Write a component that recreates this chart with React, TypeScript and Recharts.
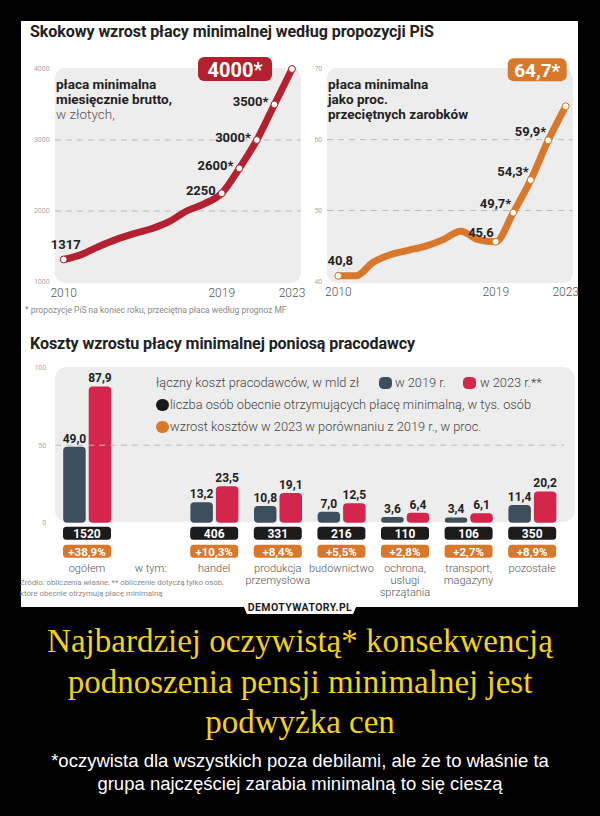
import React from "react";
import { LineChart, Line, BarChart, Bar, XAxis, YAxis, ReferenceLine, LabelList } from "recharts";

// chart 1 + 2: min wage 2010-2023
const years = [2010, 2011, 2012, 2013, 2014, 2015, 2016, 2017, 2018, 2019, 2020, 2021, 2022, 2023];
const minWage = [1317, 1386, 1500, 1600, 1680, 1750, 1850, 2000, 2100, 2250, 2600, 3000, 3500, 4000];
const wageLabels = ["1317", "", "", "", "", "", "", "", "", "2250", "2600*", "3000*", "3500*", "4000*"];
const wageShare = [40.8, 40.8, 42.7, 43.8, 44.4, 45.0, 45.9, 47.1, 45.9, 45.6, 49.7, 54.3, 59.9, 64.7];
const shareLabels = ["40,8", "", "", "", "", "", "", "", "", "45,6", "49,7*", "54,3*", "59,9*", "64,7*"];
const wageTicks = [1000, 2000, 3000, 4000];
const shareTicks = [40, 50, 60, 70];
const yearTicks = [2010, 2019, 2023];

// chart 3: costs by sector
const sectors = ["ogółem", "w tym:", "handel", "produkcja\nprzemysłowa", "budownictwo", "ochrona,\nusługi\nsprzątania", "transport,\nmagazyny", "pozostałe"];
const cost2019 = [49.0, null, 13.2, 10.8, 7.0, 3.6, 3.4, 11.4];
const cost2023 = [87.9, null, 23.5, 19.1, 12.5, 6.4, 6.1, 20.2];
const workers = [1520, null, 406, 331, 216, 110, 106, 350];
const costGrowth = [38.9, null, 10.3, 8.4, 5.5, 2.8, 2.7, 8.9];
const costTicks = [0, 50, 100];

const wageData = years.map((year, i) => ({ year, wage: minWage[i], label: wageLabels[i] }));
const shareData = years.map((year, i) => ({ year, share: wageShare[i], label: shareLabels[i] }));
const costData = sectors.map((sector, i) => ({ sector, y2019: cost2019[i], y2023: cost2023[i] }));

const FONT = "Roboto, 'Noto Sans', sans-serif";
const RED = "#b3202f";
const ORANGE = "#d9782b";
const SLATE = "#3d4f5b";
const CRIMSON = "#d4264d";
const BG = "#ededed";

const comma = (v: number) => v.toFixed(1).replace(".", ",");

const makeDot = (color: string) => (p: any) => {
  const yr = years[p.index];
  if (!(p.index === 0 || yr >= 2019)) return <g key={"d" + p.index} />;
  return <circle key={"d" + p.index} cx={p.cx} cy={p.cy} r={3.4} fill="#fff" stroke={color} strokeWidth={1} />;
};

const makeLabel = (labels: string[], color: string, o: any) => (props: any) => {
  const { x, y, value } = props;
  if (!value) return null;
  const index = props.index ?? labels.indexOf(value);
  if (index === labels.length - 1) {
    return (
      <g>
        <rect x={x + o.bx} y={y + o.by} width={o.bw} height={o.bh} rx={6} fill={color} />
        <text x={x + o.bx + o.bw / 2} y={y + o.by + o.bh / 2 + 1} textAnchor="middle" dominantBaseline="central"
          fill="#fff" fontSize={o.bfs} fontWeight={700} fontFamily={FONT}>{value}</text>
      </g>
    );
  }
  if (index === 0) {
    return (
      <text x={x + 2} y={y - 15} textAnchor="middle" dominantBaseline="central" fill="#222" fontSize={13} fontWeight={700} fontFamily={FONT}>{value}</text>
    );
  }
  return (
    <text x={x + o.dx} y={y + o.dy} textAnchor="end" dominantBaseline="central" fill="#222" fontSize={13} fontWeight={700} fontFamily={FONT}>{value}</text>
  );
};

const barLabel = (props: any) => {
  const { x, y, width, value } = props;
  if (value == null) return null;
  return (
    <text x={x + width / 2} y={y - 4} textAnchor="middle" fill="#222" fontSize={12} fontWeight={700} fontFamily={FONT}>{comma(value)}</text>
  );
};

const SectorTick = (props: any) => {
  const { x, y, payload } = props;
  const i = payload.index ?? sectors.indexOf(payload.value);
  const lines = sectors[i].split("\n");
  return (
    <g fontFamily={FONT}>
      {workers[i] != null && (
        <g>
          <rect x={x - 24} y={y + 4} width={48} height={13} rx={3.5} fill="#1b1b1b" />
          <text x={x} y={y + 11} textAnchor="middle" dominantBaseline="central" fill="#fff" fontSize={12} fontWeight={700}>{workers[i]}</text>
          <rect x={x - 24} y={y + 22} width={48} height={13} rx={3.5} fill={ORANGE} />
          <text x={x} y={y + 29} textAnchor="middle" dominantBaseline="central" fill="#fff" fontSize={11.5} fontWeight={700}>{"+" + comma(costGrowth[i] as number) + "%"}</text>
        </g>
      )}
      {lines.map((l, k) => (
        <text key={k} x={x} y={y + 46 + k * 12} textAnchor="middle" dominantBaseline="central" fill="#555" fontSize={11} fontWeight={300}>{l}</text>
      ))}
    </g>
  );
};

const abs = (l: number, t: number, extra: any = {}) => ({ position: "absolute" as const, left: l, top: t, ...extra });

const LegendIcon = ({ l, t, color, round }: any) => (
  <div style={abs(l, t, { width: 13, height: 12, borderRadius: round ? 6 : 4.5, background: color })} />
);

export default function App() {
  const tiny = { fontSize: 7, fill: "#aaa", fontFamily: FONT };
  const yearTick = { fontSize: 12, fill: "#555", fontFamily: FONT, fontWeight: 300 };
  const blockText = { fontSize: 13.5, lineHeight: "15px", color: "#222", fontWeight: 700, whiteSpace: "nowrap" as const };
  const legendText = { fontSize: 12.8, lineHeight: "14px", color: "#444", fontWeight: 300, whiteSpace: "nowrap" as const };
  const heading = { fontSize: 16.1, lineHeight: "18px", fontWeight: 700, color: "#222", letterSpacing: -0.1, whiteSpace: "nowrap" as const };

  return (
    <div style={{ position: "absolute", left: 0, top: 0, width: 600, height: 816, background: "#000", overflow: "hidden", fontFamily: FONT }}>
      <div style={abs(21, 21, { width: 557, height: 586, background: "#fff" })} />
      <div style={abs(30, 23, heading)}>Skokowy wzrost płacy minimalnej według propozycji PiS</div>

      {/* chart backgrounds */}
      <div style={abs(55, 68, { width: 246, height: 215, borderRadius: 10, background: BG })} />
      <div style={abs(327, 68, { width: 246, height: 215, borderRadius: 10, background: BG })} />

      <div style={abs(56, 77, blockText)}>
        płaca minimalna<br />miesięcznie brutto,<br /><span style={{ fontWeight: 300, color: "#555" }}>w złotych,</span>
      </div>
      <div style={abs(328, 77, blockText)}>
        płaca minimalna<br />jako proc.<br />przeciętnych zarobków
      </div>

      <div style={abs(20, 40)}>
        <LineChart width={290} height={270} data={wageData} margin={{ top: 29, right: 18, left: 0, bottom: 0 }}>
          <XAxis dataKey="year" type="number" domain={[2010, 2023]} ticks={yearTicks} axisLine={false} tickLine={false}
            tickSize={0} tickMargin={6} height={28} tick={yearTick} />
          <YAxis domain={[1000, 4000]} ticks={wageTicks} axisLine={false} tickLine={false} tickSize={0} tickMargin={14}
            width={43.7} tick={tiny} />
          {[2000, 3000].map((v) => (
            <ReferenceLine key={v} segment={[{ x: 2009.5, y: v }, { x: 2023.5, y: v }]} ifOverflow="visible" stroke="#bbb" strokeDasharray="6 5" />
          ))}
          <Line type="monotone" dataKey="wage" stroke={RED} strokeWidth={7} strokeLinecap="round" dot={makeDot(RED)} activeDot={false} isAnimationActive={false}>
            <LabelList dataKey="label" content={makeLabel(wageLabels, RED, { dx: -6, dy: -3, bx: -94, by: -12, bw: 74, bh: 24, bfs: 20 })} />
          </Line>
        </LineChart>
      </div>

      <div style={abs(300, 40)}>
        <LineChart width={290} height={270} data={shareData} margin={{ top: 28.7, right: 24.3, left: 0, bottom: 0 }}>
          <XAxis dataKey="year" type="number" domain={[2010, 2023]} ticks={yearTicks} axisLine={false} tickLine={false}
            tickSize={0} tickMargin={6} height={28.5} tick={yearTick} />
          <YAxis domain={[40, 70]} ticks={shareTicks} axisLine={false} tickLine={false} tickSize={0} tickMargin={16}
            width={38.3} tick={tiny} />
          {[50, 60].map((v) => (
            <ReferenceLine key={v} segment={[{ x: 2009.35, y: v }, { x: 2023.4, y: v }]} ifOverflow="visible" stroke="#bbb" strokeDasharray="6 5" />
          ))}
          <Line type="monotone" dataKey="share" stroke={ORANGE} strokeWidth={7} strokeLinecap="round" dot={makeDot(ORANGE)} activeDot={false} isAnimationActive={false}>
            <LabelList dataKey="label" content={makeLabel(shareLabels, ORANGE, { dx: -2, dy: -9, bx: -58, by: -48, bw: 59, bh: 23, bfs: 19 })} />
          </Line>
        </LineChart>
      </div>

      <div style={abs(25, 305, { fontSize: 8.5, lineHeight: "11px", color: "#8a8a8a", whiteSpace: "nowrap" })}>
        * propozycje PiS na koniec roku, przeciętna płaca według prognoz MF
      </div>

      {/* chart 3 */}
      <div style={abs(30, 335, heading)}>Koszty wzrostu płacy minimalnej poniosą pracodawcy</div>
      <div style={abs(55, 367, { width: 520, height: 155, borderRadius: 12, background: BG })} />

      <div style={abs(156, 376, legendText)}>łączny koszt pracodawców, w mld zł</div>
      <LegendIcon l={379} t={377} color={SLATE} />
      <div style={abs(395, 376, legendText)}>w 2019 r.</div>
      <LegendIcon l={463} t={377} color={CRIMSON} />
      <div style={abs(480, 376, legendText)}>w 2023 r.**</div>
      <LegendIcon l={156} t={399} color="#1b1b1b" round />
      <div style={abs(170, 398, legendText)}>liczba osób obecnie otrzymujących płacę minimalną, w tys. osób</div>
      <LegendIcon l={156} t={421} color={ORANGE} round />
      <div style={abs(170, 420, legendText)}>wzrost kosztów w 2023 w porównaniu z 2019 r., w proc.</div>

      <div style={abs(20, 355)}>
        <BarChart width={570} height={245} data={costData} margin={{ top: 12.7, right: 26, left: 0, bottom: 0 }} barSize={22.5} barGap={3}>
          <XAxis dataKey="sector" interval={0} axisLine={false} tickLine={false} tickSize={0} tickMargin={0} height={77.3} tick={<SectorTick />} />
          <YAxis domain={[0, 100]} ticks={costTicks} axisLine={false} tickLine={false} tickSize={0} tickMargin={9} width={35.2} tick={tiny} />
          <ReferenceLine y={50} stroke="#bbb" strokeDasharray="6 5" />
          <Bar dataKey="y2019" fill={SLATE} radius={4} isAnimationActive={false}>
            <LabelList dataKey="y2019" content={barLabel} />
          </Bar>
          <Bar dataKey="y2023" fill={CRIMSON} radius={4} isAnimationActive={false}>
            <LabelList dataKey="y2023" content={barLabel} />
          </Bar>
        </BarChart>
      </div>

      <div style={abs(20, 577, { fontSize: 7.8, lineHeight: "11px", color: "#8a8a8a", whiteSpace: "nowrap" })}>
        Źródło: obliczenia własne, ** obliczenie dotyczą tylko osób,<br />które obecnie otrzymują płacę minimalną
      </div>

      <svg style={abs(0, 0)} width={600} height={816}>
        <polygon points="240,598 360,598 353,614 247,614" fill="#fff" />
        <text x={300} y={611} textAnchor="middle" fontSize={10.5} fontWeight={700} letterSpacing={0.4} fill="#1e1e1e" fontFamily={FONT}>DEMOTYWATORY.PL</text>
      </svg>

      <div style={abs(0, 621, { width: 600, textAlign: "center", fontFamily: "'Liberation Serif', 'Times New Roman', serif", fontSize: 33, lineHeight: "40.5px", color: "#f2d11c" })}>
        Najbardziej oczywistą* konsekwencją<br />podnoszenia pensji minimalnej jest<br />podwyżka cen
      </div>
      <div style={abs(0, 749, { width: 600, textAlign: "center", fontFamily: "'Liberation Sans', Arial, sans-serif", fontSize: 18.5, lineHeight: "23px", color: "#fff" })}>
        *oczywista dla wszystkich poza debilami, ale że to właśnie ta<br />grupa najczęściej zarabia minimalną to się cieszą
      </div>
    </div>
  );
}
